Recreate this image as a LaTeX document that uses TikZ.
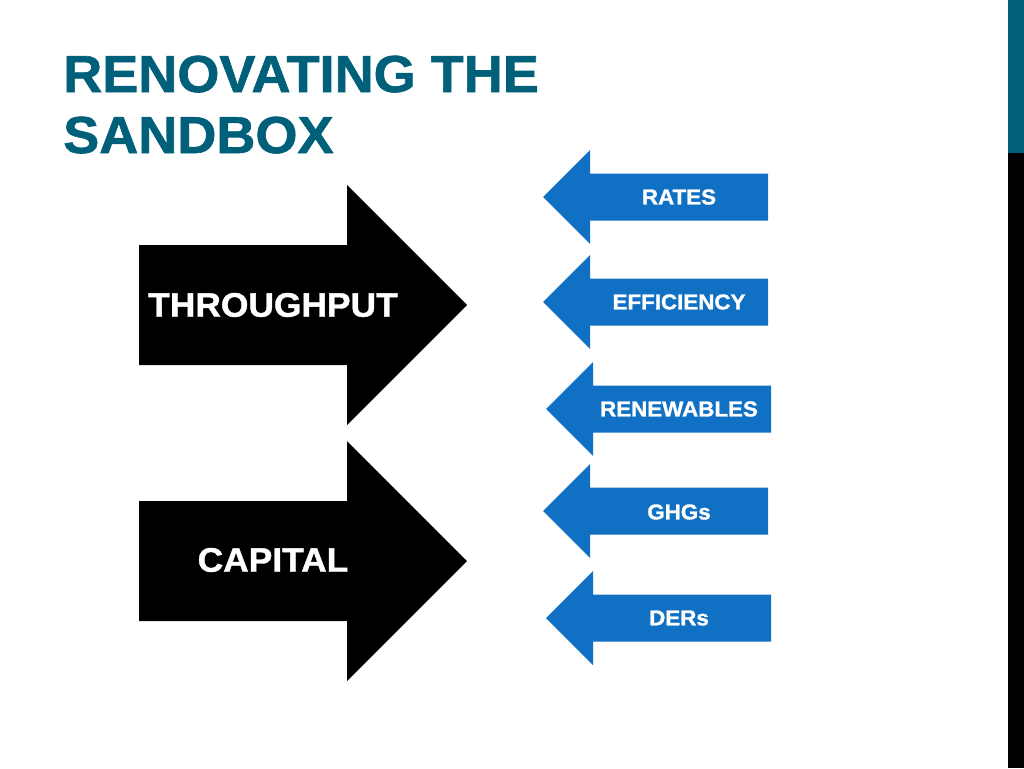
\documentclass[tikz,border=0pt]{standalone}
\usepackage{fontspec}
\setmainfont{Liberation Sans}
\newfontfamily\heavyfont{Liberation Sans Bold}[FakeBold=1.2,FakeStretch=1.04]
\definecolor{titleteal}{RGB}{0,96,122}
\definecolor{arrowblue}{RGB}{16,112,196}
\tikzset{
  bigarrow/.style={fill=black},
  smallarrow/.style={fill=arrowblue},
  biglabel/.style={text=white, font=\heavyfont\fontsize{34}{40}\selectfont, inner sep=0pt},
  smalllabel/.style={text=white, font=\heavyfont\fontsize{21.5}{25}\selectfont, inner sep=0pt},
  titletext/.style={text=titleteal, font=\heavyfont\fontsize{52}{61}\selectfont, inner sep=0pt, anchor=base west}
}

\begin{document}
\begin{tikzpicture}[x=1pt, y=-1pt]
\useasboundingbox (0,0) rectangle (1024,768);
% side bar
\fill[titleteal] (1008,0) rectangle (1024,153);
\fill[black] (1008,153) rectangle (1024,768);
% title
\node[titletext] (title1) at (63,92) {RENOVATING THE};
\node[titletext] (title2) at (63,153) {SANDBOX};
% black arrows
\fill[bigarrow] (139,245) -- (347,245) -- (347,185) -- (467,305) -- (347,425) -- (347,365) -- (139,365) -- cycle;
\fill[bigarrow] (139,501) -- (347,501) -- (347,441) -- (467,561) -- (347,681) -- (347,621) -- (139,621) -- cycle;
\node[biglabel] (throughput) at (273,305) {THROUGHPUT};
\node[biglabel] (capital) at (273,560) {CAPITAL};
% blue arrows
\fill[smallarrow] (543,197) -- ++(47,-47) -- ++(0,23.5) -- ++(178,0) -- ++(0,47) -- ++(-178,0) -- ++(0,23.5) -- cycle;
\fill[smallarrow] (543,302) -- ++(47,-47) -- ++(0,23.5) -- ++(178,0) -- ++(0,47) -- ++(-178,0) -- ++(0,23.5) -- cycle;
\fill[smallarrow] (546,409) -- ++(47,-47) -- ++(0,23.5) -- ++(178,0) -- ++(0,47) -- ++(-178,0) -- ++(0,23.5) -- cycle;
\fill[smallarrow] (543,511) -- ++(47,-47) -- ++(0,23.5) -- ++(178,0) -- ++(0,47) -- ++(-178,0) -- ++(0,23.5) -- cycle;
\fill[smallarrow] (546,618) -- ++(47,-47) -- ++(0,23.5) -- ++(178,0) -- ++(0,47) -- ++(-178,0) -- ++(0,23.5) -- cycle;
\node[smalllabel] (rates) at (679,197) {RATES};
\node[smalllabel] (efficiency) at (679,302) {EFFICIENCY};
\node[smalllabel] (renewables) at (679,409) {RENEWABLES};
\node[smalllabel] (ghgs) at (679,512) {GHGs};
\node[smalllabel] (ders) at (679,618) {DERs};
\end{tikzpicture}
\end{document}
